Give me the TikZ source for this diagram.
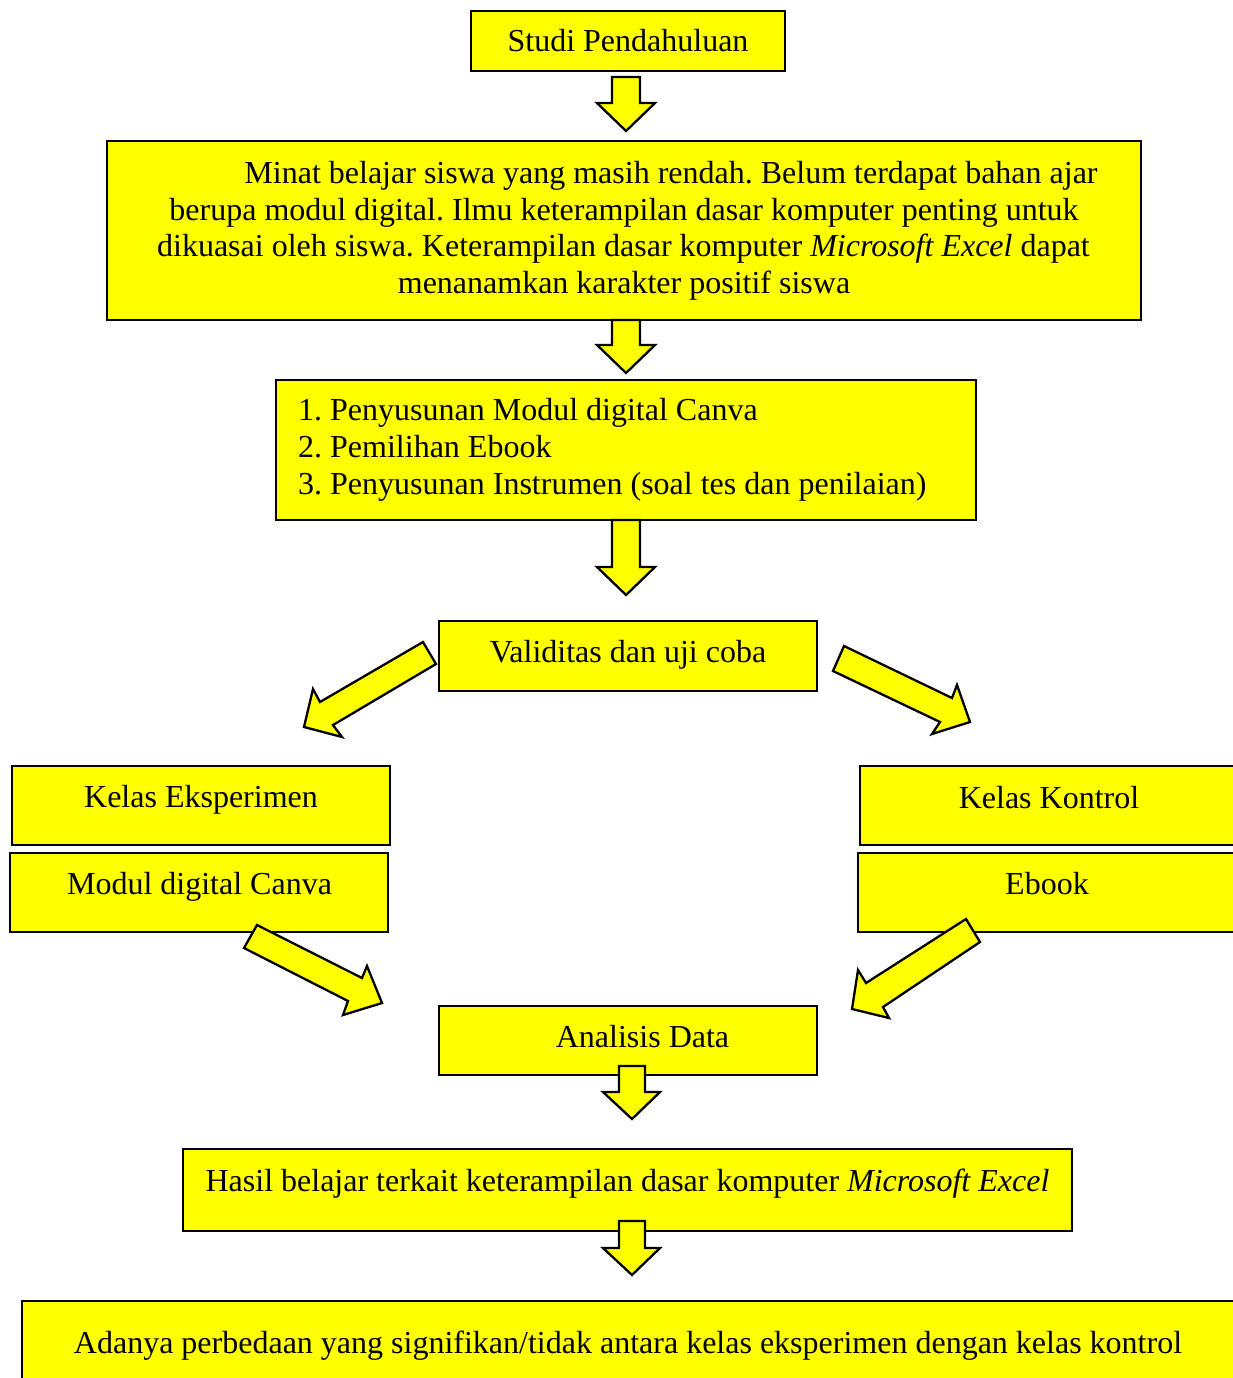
\documentclass[tikz,border=0pt]{standalone}
\usepackage{fontspec}
\setmainfont{Liberation Serif}
\definecolor{boxyellow}{RGB}{255,255,0}
\frenchspacing
\begin{document}
\begin{tikzpicture}[x=1pt,y=-1pt,
  box/.style={draw=black, fill=boxyellow, line width=2.3pt, rectangle, inner sep=0pt},
  txt/.style={inner sep=0pt, anchor=base, font=\fontsize{32}{37}\selectfont},
  txtw/.style={inner sep=0pt, anchor=base west, font=\fontsize{32}{37}\selectfont},
  blockarrow/.style={draw=black, fill=boxyellow, line width=2.3pt, line join=miter}]
\useasboundingbox (0,0) rectangle (1233,1378);
\clip (0,0) rectangle (1233,1378);
\fill[white] (0,0) rectangle (1233,1378);

% boxes
\node[box, minimum width=314pt, minimum height=60pt] (studi) at (628,41) {};
\node[box, minimum width=1034pt, minimum height=179pt] (minat) at (624,230.5) {};
\node[box, minimum width=700pt, minimum height=140pt] (susun) at (626,450) {};
\node[box, minimum width=378pt, minimum height=70pt] (valid) at (628,656) {};
\node[box, minimum width=378pt, minimum height=79pt] (ke) at (201,805.5) {};
\node[box, minimum width=378pt, minimum height=79pt] (mdc) at (199,892.5) {};
\node[box, minimum width=380pt, minimum height=79pt] (kk) at (1050,805.5) {};
\node[box, minimum width=382pt, minimum height=79pt] (ebook) at (1049,892.5) {};
\node[box, minimum width=378pt, minimum height=69pt] (analisis) at (628,1040.5) {};
\node[box, minimum width=889pt, minimum height=82pt] (hasil) at (627.5,1190) {};
\node[box, minimum width=1218pt, minimum height=89pt] (final) at (631,1345.5) {};

% texts
\node[txt] (studiT) at (628,52) {Studi Pendahuluan};
\node[txt] (minatA) at (671,183) {Minat belajar siswa yang masih rendah. Belum terdapat bahan ajar};
\node[txt] (minatB) at (624,220) {berupa modul digital. Ilmu keterampilan dasar komputer penting untuk};
\node[txt] (minatC) at (623.5,256) {dikuasai oleh siswa. Keterampilan dasar komputer \textit{Microsoft Excel} dapat};
\node[txt] (minatD) at (624,293) {menanamkan karakter positif siswa};
\node[txtw] (n1) at (298,420) {1.};
\node[txtw] (s1) at (330,420) {Penyusunan Modul digital Canva};
\node[txtw] (n2) at (298,457) {2.};
\node[txtw] (s2) at (330,457) {Pemilihan Ebook};
\node[txtw] (n3) at (298,494) {3.};
\node[txtw] (s3) at (330,494) {Penyusunan Instrumen (soal tes dan penilaian)};
\node[txt] (validT) at (628,662) {Validitas dan uji coba};
\node[txt] (keT) at (201,807) {Kelas Eksperimen};
\node[txt] (mdcT) at (199.5,894) {Modul digital Canva};
\node[txt] (kkT) at (1049,808) {Kelas Kontrol};
\node[txt] (ebookT) at (1047,894) {Ebook};
\node[txt] (analisisT) at (642.5,1047) {Analisis Data};
\node[txt] (hasilT) at (627.5,1191) {Hasil belajar terkait keterampilan dasar komputer \textit{Microsoft Excel}};
\node[txt] (finalT) at (628,1353) {Adanya perbedaan yang signifikan/tidak antara kelas eksperimen dengan kelas kontrol};

% vertical block arrows
\draw[blockarrow] (612,77) -- (640,77) -- (640,103) -- (655,103) -- (626,131) -- (597,103) -- (612,103) -- cycle;
\draw[blockarrow] (612,320) -- (640,320) -- (640,345) -- (655,345) -- (626,373) -- (597,345) -- (612,345) -- cycle;
\draw[blockarrow] (612,520) -- (640,520) -- (640,567) -- (655,567) -- (626,595) -- (597,567) -- (612,567) -- cycle;
\draw[blockarrow] (619,1066) -- (645,1066) -- (645,1092) -- (660,1092) -- (632,1119) -- (603,1092) -- (619,1092) -- cycle;
\draw[blockarrow] (619,1221) -- (645,1221) -- (645,1248) -- (660,1248) -- (632,1275) -- (603,1248) -- (619,1248) -- cycle;

% diagonal block arrows
\draw[blockarrow] (423,642) -- (436,664) -- (333,725) -- (342,737) -- (304,727) -- (313,689) -- (320,702) -- cycle;
\draw[blockarrow] (844,646) -- (833,671) -- (940,722) -- (932,734) -- (970,722) -- (957,685) -- (952,698) -- cycle;
\draw[blockarrow] (257,925) -- (244,948) -- (348,1001) -- (343,1015) -- (382,1003) -- (367,966) -- (362,978) -- cycle;
\draw[blockarrow] (966,919) -- (980,942) -- (883,1007) -- (889,1018) -- (852,1009) -- (858,970) -- (866,983) -- cycle;
\end{tikzpicture}
\end{document}
